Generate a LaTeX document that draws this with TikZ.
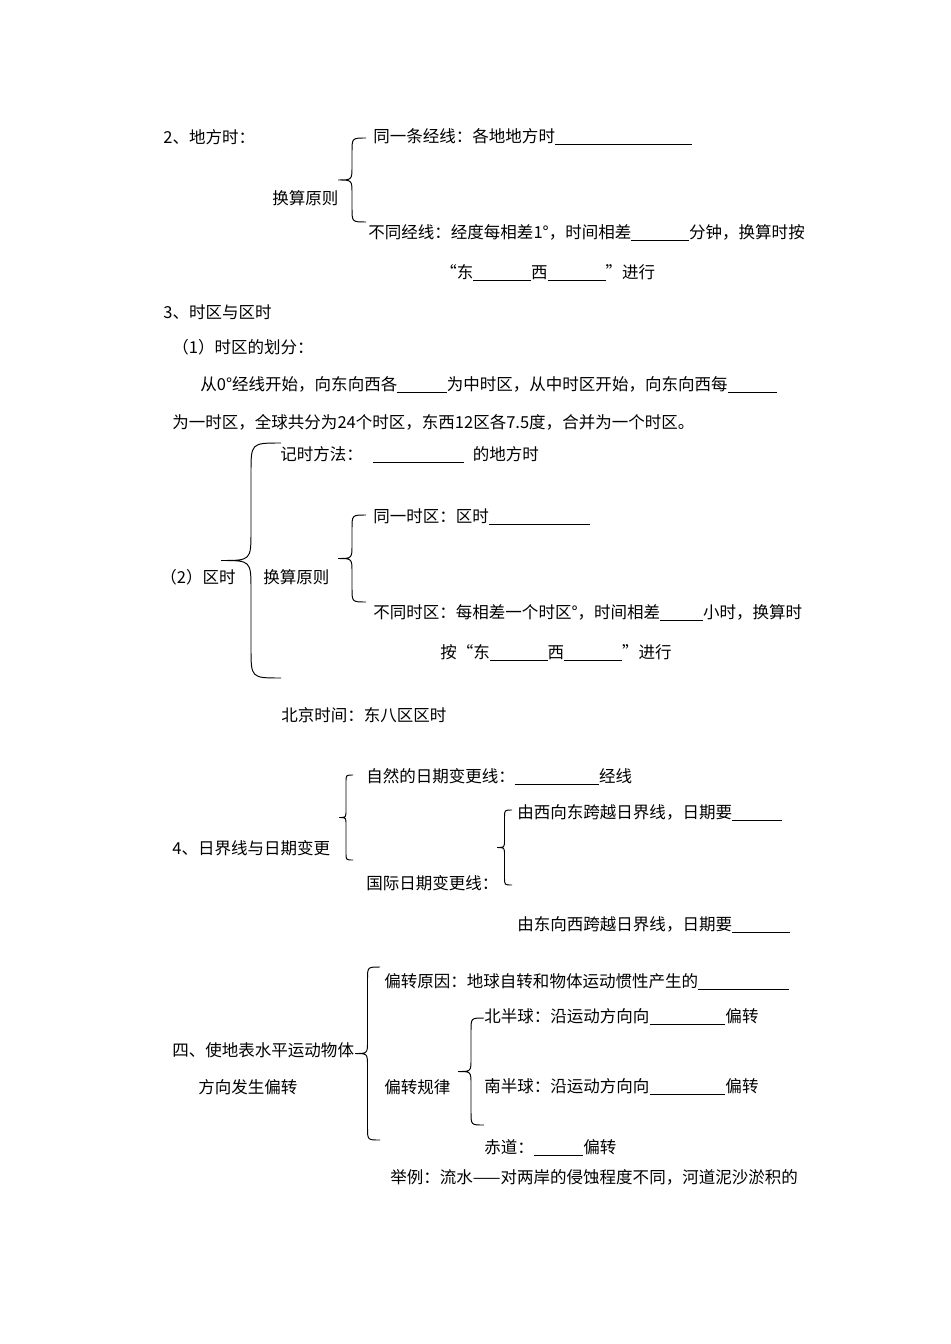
\documentclass[tikz,border=0pt]{standalone}
\usepackage{fontspec}
\setmainfont{Noto Sans CJK SC}
\usepackage{tikz}
\newcommand\blank[1]{\rule[-1.2pt]{#1em}{0.5pt}}
% curly brace: end x, top y, bottom y, half width
\newcommand\curly[4]{%
 \draw[bracket] (#1,#2) .. controls ({#1-#4},#2) .. ({#1-#4},{#2+#4})
 -- ({#1-#4},{(#2+#3)/2-#4}) .. controls ({#1-#4},{(#2+#3)/2}) .. ({#1-2*#4},{(#2+#3)/2})
 .. controls ({#1-#4},{(#2+#3)/2}) .. ({#1-#4},{(#2+#3)/2+#4})
 -- ({#1-#4},{#3-#4}) .. controls ({#1-#4},#3) .. (#1,#3);}
\tikzset{
 txt/.style={
 anchor=west,
 inner sep=0pt,
 font=\fontsize{9.4}{11}\selectfont
 },
 bracket/.style={line width=0.55pt}
}
\begin{document}
\begin{tikzpicture}[x=0.02cm, y=-0.02cm]
	\useasboundingbox (0,0) rectangle (950,1344);

	% 2 local time
	\node[txt] (sec2) at (163,137) {2、地方时：};
	\node[txt] (same1) at (373,137) {同一条经线：各地地方时\blank{8.3}};
	\node[txt] (rule1) at (272,198) {换算原则};
	\node[txt] (diff1) at (368,233) {不同经线：经度每相差1°，时间相差\blank{3.5}分钟，换算时按};
	\node[txt] (ew1) at (440,273) {“东\blank{3.5}西\blank{3.5}”进行};
	\curly{366}{138}{222}{14}

	% 3 zones
	\node[txt] (sec3) at (163,312) {3、时区与区时};
	\node[txt] (sec31) at (172,347) {（1）时区的划分：};
	\node[txt] (zone1) at (200,385) {从0°经线开始，向东向西各\blank{3}为中时区，从中时区开始，向东向西每\blank{3}};
	\node[txt] (zone2) at (172,422) {为一时区，全球共分为24个时区，东西12区各7.5度，合并为一个时区。};

	\node[txt] (sec32) at (160,577) {（2）区时};
	\node[txt] (method) at (280,455) {记时方法：\hspace{0.6em}\blank{5.5}\hspace{0.55em}的地方时};
	\node[txt] (rule2) at (263,577) {换算原则};
	\node[txt] (same2) at (373,517) {同一时区：区时\blank{6.1}};
	\node[txt] (diff2) at (373,613) {不同时区：每相差一个时区°，时间相差\blank{2.6}小时，换算时};
	\node[txt] (ew2) at (440,653) {按“东\blank{3.5}西\blank{3.5}”进行};
	\node[txt] (beijing) at (281,715) {北京时间：东八区区时};
	\curly{281}{443}{678}{30}
	\curly{366}{515}{602}{14}

	% 4 date line
	\node[txt] (natural) at (366,777) {自然的日期变更线：\blank{5.1}经线};
	\node[txt] (sec4) at (172,848) {4、日界线与日期变更};
	\node[txt] (westeast) at (517,813) {由西向东跨越日界线，日期要\blank{3}};
	\node[txt] (intl) at (366,883) {国际日期变更线：};
	\node[txt] (eastwest) at (517,925) {由东向西跨越日界线，日期要\blank{3.5}};
	\curly{353}{775}{860}{7}
	\curly{512}{810}{885}{7.5}

	% deflection
	\node[txt] (cause) at (384,982) {偏转原因：地球自转和物体运动惯性产生的\blank{5.5}};
	\node[txt] (north) at (484,1017) {北半球：沿运动方向向\blank{4.6}偏转};
	\node[txt] (secd1) at (172,1050) {四、使地表水平运动物体};
	\node[txt] (secd2) at (198,1087) {方向发生偏转};
	\node[txt] (law) at (384,1087) {偏转规律};
	\node[txt] (south) at (484,1087) {南半球：沿运动方向向\blank{4.6}偏转};
	\node[txt] (equator) at (484,1148) {赤道：\blank{3}偏转};
	\node[txt] (example) at (390,1177) {举例：流水——对两岸的侵蚀程度不同，河道泥沙淤积的};
	\curly{380}{967}{1140}{12.5}
	\curly{484}{1018}{1125}{13}
\end{tikzpicture}
\end{document}
